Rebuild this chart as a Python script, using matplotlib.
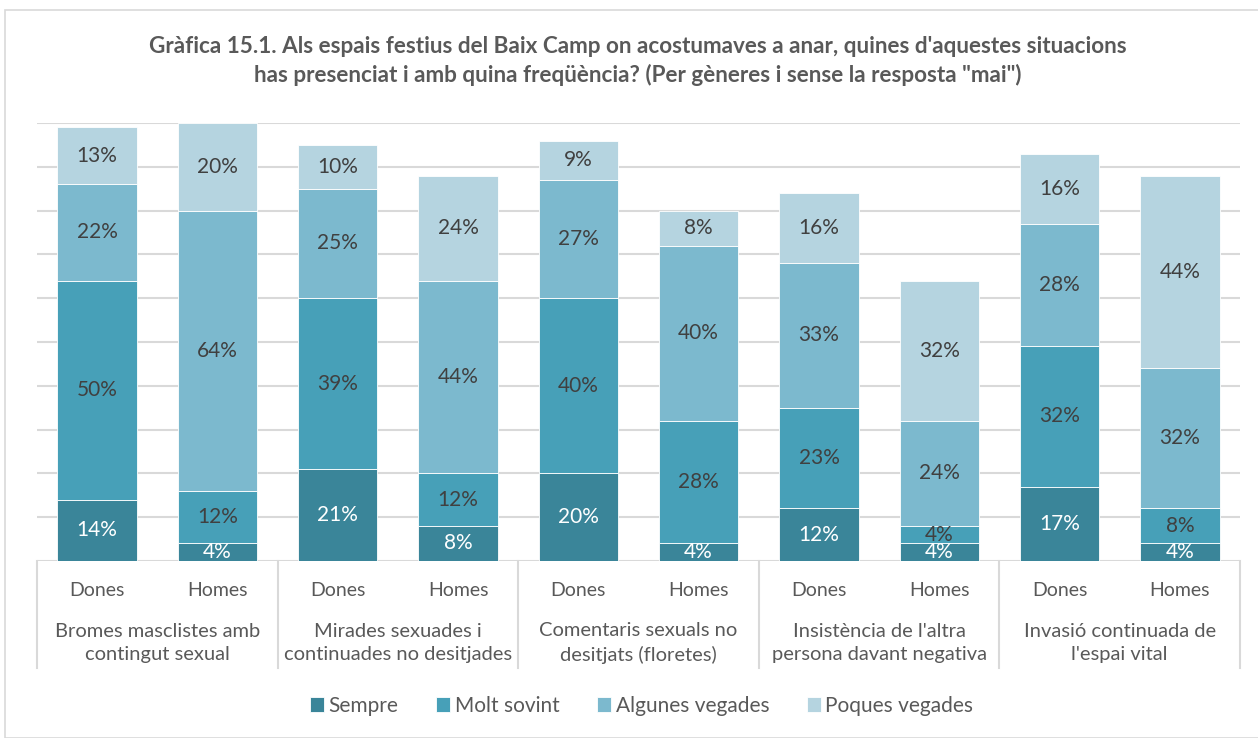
import matplotlib
matplotlib.use('Agg')
import matplotlib.pyplot as plt
import matplotlib.transforms as mtransforms
from matplotlib.patches import Rectangle
import numpy as np

plt.rcParams['font.family'] = ['Lato', 'DejaVu Sans']

# Data: percentages per situation and gender
groups = ["Bromes masclistes amb\ncontingut sexual",
          "Mirades sexuades i\ncontinuades no desitjades",
          "Comentaris sexuals no\ndesitjats (floretes)",
          "Insistència de l'altra\npersona davant negativa",
          "Invasió continuada de\nl'espai vital"]
genders = ["Dones", "Homes"]
series = ["Sempre", "Molt sovint", "Algunes vegades", "Poques vegades"]

sempre = [14, 4, 21, 8, 20, 4, 12, 4, 17, 4]
molt_sovint = [50, 12, 39, 12, 40, 28, 23, 4, 32, 8]
algunes_vegades = [22, 64, 25, 44, 27, 40, 33, 24, 28, 32]
poques_vegades = [13, 20, 10, 24, 9, 8, 16, 32, 16, 44]

colors = ['#3A8599', '#47A0B8', '#7CB9CE', '#B5D4E0']
label_colors = ['white', '#404040', '#404040', '#404040']
grid_color = '#D9D9D9'
text_color = '#595959'

fig = plt.figure(figsize=(12.58, 7.38), dpi=100)
ax = fig.add_axes([37 / 1258, 1 - 561 / 738, (1240 - 37) / 1258, (561 - 123) / 738])

x = np.arange(len(sempre))
bottom = np.zeros(len(sempre))
for name, vals, col, lcol in zip(series, [sempre, molt_sovint, algunes_vegades, poques_vegades],
                                 colors, label_colors):
    vals = np.array(vals, dtype=float)
    ax.bar(x, vals, 0.66, bottom=bottom, color=col, label=name,
           edgecolor='white', linewidth=0.6, zorder=3)
    for xi, b, v in zip(x, bottom, vals):
        ax.text(xi, b + v / 2, f'{v:.0f}%', ha='center', va='center',
                fontsize=15, color=lcol, zorder=4)
    bottom += vals

ax.set_xlim(-0.5, len(sempre) - 0.5)
ax.set_ylim(0, 100)
ax.set_yticks(np.arange(0, 101, 10))
ax.yaxis.grid(True, color=grid_color, linewidth=1.5, zorder=0)
ax.tick_params(axis='y', left=False, labelleft=False)
for side in ['top', 'right', 'left', 'bottom']:
    ax.spines[side].set_visible(False)

# Gender labels under each bar
ax.set_xticks(x)
ax.set_xticklabels(genders * len(groups), fontsize=14, color=text_color)
ax.tick_params(axis='x', length=0, pad=15)

# Group labels and separators below the axis
trans = mtransforms.blended_transform_factory(ax.transData, ax.transAxes)
for i, g in enumerate(groups):
    ax.text(2 * i + 0.5, -0.188, g, transform=trans, ha='center', va='center',
            fontsize=14.5, color=text_color, linespacing=1.45)
for sx in np.arange(-0.5, len(sempre), 2):
    ax.plot([sx, sx], [0, -0.245], transform=trans, color=grid_color,
            linewidth=1.5, clip_on=False)

# Title
fig.text(0.507, 1 - 61 / 738,
         "Gràfica 15.1. Als espais festius del Baix Camp on acostumaves a anar, quines d'aquestes situacions\n"
         "has presenciat i amb quina freqüència? (Per gèneres i sense la resposta \"mai\")",
         ha='center', va='center', fontsize=16.2, fontweight='bold', color=text_color,
         linespacing=1.4)

# Legend
fig.legend(loc='center', bbox_to_anchor=(0.51, 1 - 706 / 738), ncol=4, frameon=False,
           fontsize=15, handlelength=0.7, handleheight=0.7, handletextpad=0.2,
           columnspacing=1.8, labelcolor=text_color)

# Chart border
fig.add_artist(Rectangle((5 / 1258, 0), 1, 1 - 10 / 738, transform=fig.transFigure,
                         fill=False, edgecolor=grid_color, linewidth=1.2))

fig.savefig('out.png', dpi=100)
